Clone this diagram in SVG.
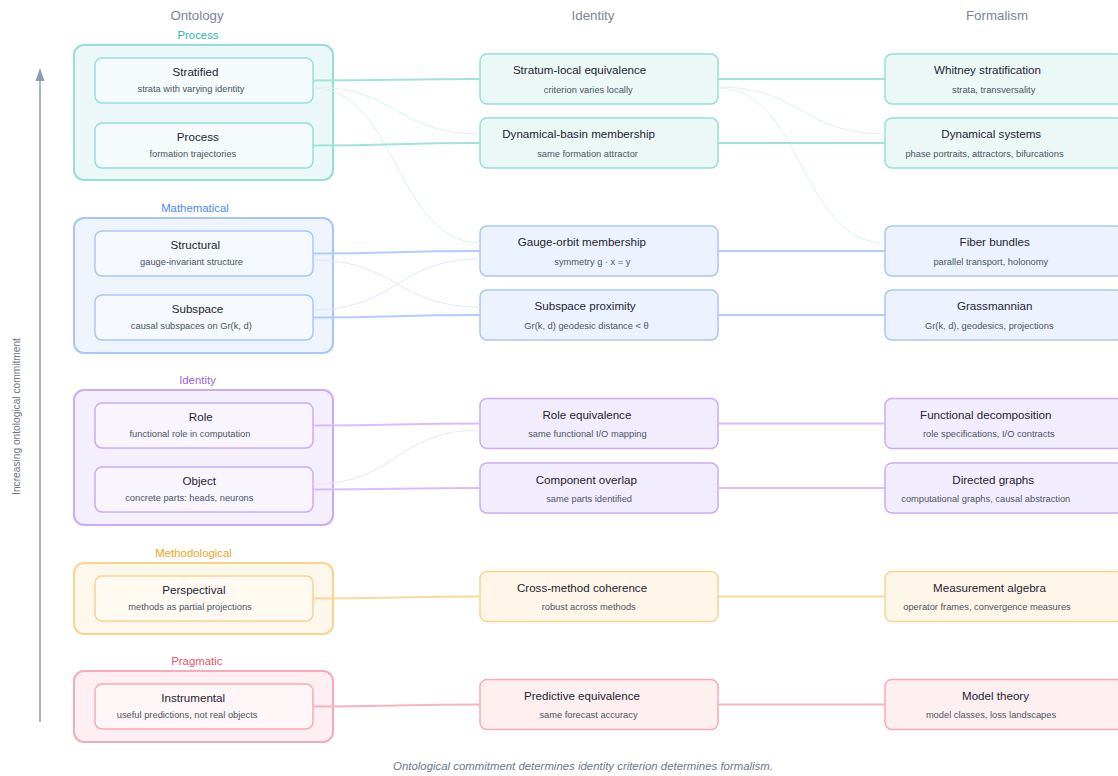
<svg xmlns="http://www.w3.org/2000/svg" width="1118" height="776" viewBox="0 0 1118 776">
<defs>
<style>
text{font-family:"Liberation Sans",Arial,sans-serif;text-anchor:middle;dominant-baseline:central}
.hdr{font-size:13.3px;fill:#7b8598}
.gl{font-size:11.4px}
.ti{font-size:11.6px;fill:#1e2433}
.su{font-size:9.3px;fill:#4b5565}
.cap{font-size:11.4px;font-style:italic;fill:#6a7890}
.ax{font-size:10.2px;fill:#6b7385}
.g{stroke-width:2}
.in,.nd{stroke-width:1.5}
.teal .g{fill:#ecf8f7;stroke:#95dfd7}
.teal .in{fill:#f4fbfa;stroke:#95dfd7}
.teal .nd{fill:#ebf8f6;stroke:#95dfd7}
.teal .gl{fill:#1fbba7}
.blue .g{fill:#eff5fe;stroke:#a7c7fb}
.blue .in{fill:#f5f8fe;stroke:#a7c7fb}
.blue .nd{fill:#edf3fe;stroke:#a7c7fb}
.blue .gl{fill:#4a8af4}
.purple .g{fill:#f4effd;stroke:#cdaaf5}
.purple .in{fill:#f8f5fe;stroke:#cdaaf5}
.purple .nd{fill:#f2edfd;stroke:#cdaaf5}
.purple .gl{fill:#9f5ee9}
.amber .g{fill:#fef7eb;stroke:#fad391}
.amber .in{fill:#fffaf2;stroke:#fad391}
.amber .nd{fill:#fef6e8;stroke:#fad391}
.amber .gl{fill:#f2a31a}
.rose .g{fill:#fef0f2;stroke:#faa9b6}
.rose .in{fill:#fef6f7;stroke:#faa9b6}
.rose .nd{fill:#feeff1;stroke:#faa9b6}
.rose .gl{fill:#f0506b}
.c{fill:none}
.s{stroke-width:2}
.f{stroke-width:1}
.ct.s{stroke:#a1e2db}.ct.f{stroke:#daf4f0}
.cb.s{stroke:#b1cdfb}.cb.f{stroke:#dfe9fd}
.cp.s{stroke:#d6bff8}.cp.f{stroke:#ece3fc}
.ca.s{stroke:#fbd89d}
.cr.s{stroke:#fab2bf}
</style>
</defs>
<rect width="1118" height="776" fill="#ffffff"/>

<g id="headers">
<text class="hdr" x="197" y="15.5">Ontology</text>
<text class="hdr" x="593" y="15.5">Identity</text>
<text class="hdr" x="997" y="15.5">Formalism</text>
</g>

<g id="axis">
<line x1="40" y1="722" x2="40" y2="79" stroke="#8e9bb5" stroke-width="1.5"/>
<polygon points="40,68 44.5,81 35.5,81" fill="#8e9bb5"/>
<text class="ax" transform="translate(16,416.5) rotate(-90)">Increasing ontological commitment</text>
</g>

<!-- Ontology groups -->
<g id="grp-process" class="teal">
<text class="gl" x="198" y="35">Process</text>
<rect class="g" x="74" y="45" width="259" height="135" rx="10"/>
</g>
<g id="n-stratified" class="teal">
<rect class="in" x="95" y="58" width="218" height="45" rx="7"/>
<text class="ti" x="195.5" y="71">Stratified</text>
<text class="su" x="191" y="89">strata with varying identity</text>
</g>
<g id="n-process" class="teal">
<rect class="in" x="95" y="123" width="218" height="45" rx="7"/>
<text class="ti" x="197.8" y="136">Process</text>
<text class="su" x="192.8" y="154">formation trajectories</text>
</g>

<g id="grp-mathematical" class="blue">
<text class="gl" x="195" y="207.5">Mathematical</text>
<rect class="g" x="74" y="218" width="259" height="135" rx="10"/>
</g>
<g id="n-structural" class="blue">
<rect class="in" x="95" y="231" width="218" height="45" rx="7"/>
<text class="ti" x="195.3" y="244">Structural</text>
<text class="su" x="191.5" y="262">gauge-invariant structure</text>
</g>
<g id="n-subspace" class="blue">
<rect class="in" x="95" y="295" width="218" height="45" rx="7"/>
<text class="ti" x="197.5" y="308.5">Subspace</text>
<text class="su" x="191.3" y="326">causal subspaces on Gr(k, d)</text>
</g>

<g id="grp-identity" class="purple">
<text class="gl" x="197.5" y="380">Identity</text>
<rect class="g" x="74" y="390" width="259" height="135" rx="10"/>
</g>
<g id="n-role" class="purple">
<rect class="in" x="95" y="403" width="218" height="45" rx="7"/>
<text class="ti" x="200.8" y="416.5">Role</text>
<text class="su" x="190" y="434">functional role in computation</text>
</g>
<g id="n-object" class="purple">
<rect class="in" x="95" y="467" width="218" height="45" rx="7"/>
<text class="ti" x="199.3" y="480.5">Object</text>
<text class="su" x="189.3" y="498">concrete parts: heads, neurons</text>
</g>

<g id="grp-methodological" class="amber">
<text class="gl" x="193.6" y="552.5">Methodological</text>
<rect class="g" x="74" y="563" width="259" height="71" rx="10"/>
</g>
<g id="n-perspectival" class="amber">
<rect class="in" x="95" y="576" width="218" height="45" rx="7"/>
<text class="ti" x="193.9" y="589.5">Perspectival</text>
<text class="su" x="190" y="607">methods as partial projections</text>
</g>

<g id="grp-pragmatic" class="rose">
<text class="gl" x="196.8" y="661">Pragmatic</text>
<rect class="g" x="74" y="671" width="259" height="71" rx="10"/>
</g>
<g id="n-instrumental" class="rose">
<rect class="in" x="95" y="684" width="218" height="45" rx="7"/>
<text class="ti" x="193.2" y="697.5">Instrumental</text>
<text class="su" x="187.1" y="715">useful predictions, not real objects</text>
</g>

<!-- Identity column -->
<g id="n-stratum-local" class="teal">
<rect class="nd" x="480" y="54" width="238" height="50" rx="7"/>
<text class="ti" x="579.6" y="69.7">Stratum-local equivalence</text>
<text class="su" x="588.2" y="89.5">criterion varies locally</text>
</g>
<g id="n-dyn-basin" class="teal">
<rect class="nd" x="480" y="118" width="238" height="50" rx="7"/>
<text class="ti" x="578.6" y="133.7">Dynamical-basin membership</text>
<text class="su" x="587.6" y="153.5">same formation attractor</text>
</g>
<g id="n-gauge-orbit" class="blue">
<rect class="nd" x="480" y="226" width="238" height="50" rx="7"/>
<text class="ti" x="581.8" y="241.7">Gauge-orbit membership</text>
<text class="su" x="592.4" y="261.5">symmetry g · x = y</text>
</g>
<g id="n-subspace-prox" class="blue">
<rect class="nd" x="480" y="290" width="238" height="50" rx="7"/>
<text class="ti" x="585.1" y="305.7">Subspace proximity</text>
<text class="su" x="586.5" y="325.5">Gr(k, d) geodesic distance &lt; θ</text>
</g>
<g id="n-role-eq" class="purple">
<rect class="nd" x="480" y="398.5" width="238" height="50" rx="7"/>
<text class="ti" x="586.9" y="414.7">Role equivalence</text>
<text class="su" x="587.4" y="434">same functional I/O mapping</text>
</g>
<g id="n-component" class="purple">
<rect class="nd" x="480" y="463" width="238" height="50" rx="7"/>
<text class="ti" x="586.3" y="479">Component overlap</text>
<text class="su" x="589.1" y="498.5">same parts identified</text>
</g>
<g id="n-cross-method" class="amber">
<rect class="nd" x="480" y="571.5" width="238" height="50" rx="7"/>
<text class="ti" x="582" y="587.5">Cross-method coherence</text>
<text class="su" x="588.7" y="607">robust across methods</text>
</g>
<g id="n-predictive" class="rose">
<rect class="nd" x="480" y="679.5" width="238" height="50" rx="7"/>
<text class="ti" x="582" y="695.5">Predictive equivalence</text>
<text class="su" x="588.5" y="715">same forecast accuracy</text>
</g>

<!-- Formalism column -->
<g id="n-whitney" class="teal">
<rect class="nd" x="885" y="54" width="238" height="50" rx="7"/>
<text class="ti" x="987.5" y="69.7">Whitney stratification</text>
<text class="su" x="993.7" y="89.5">strata, transversality</text>
</g>
<g id="n-dyn-systems" class="teal">
<rect class="nd" x="885" y="118" width="238" height="50" rx="7"/>
<text class="ti" x="991.2" y="133.7">Dynamical systems</text>
<text class="su" x="984.5" y="153.5">phase portraits, attractors, bifurcations</text>
</g>
<g id="n-fiber" class="blue">
<rect class="nd" x="885" y="226" width="238" height="50" rx="7"/>
<text class="ti" x="994.7" y="241.7">Fiber bundles</text>
<text class="su" x="990.8" y="261.5">parallel transport, holonomy</text>
</g>
<g id="n-grassmannian" class="blue">
<rect class="nd" x="885" y="290" width="238" height="50" rx="7"/>
<text class="ti" x="994.7" y="305.7">Grassmannian</text>
<text class="su" x="989.3" y="325.5">Gr(k, d), geodesics, projections</text>
</g>
<g id="n-functional" class="purple">
<rect class="nd" x="885" y="398.5" width="238" height="50" rx="7"/>
<text class="ti" x="985.8" y="414.7">Functional decomposition</text>
<text class="su" x="988.8" y="434">role specifications, I/O contracts</text>
</g>
<g id="n-directed" class="purple">
<rect class="nd" x="885" y="463" width="238" height="50" rx="7"/>
<text class="ti" x="993.2" y="479">Directed graphs</text>
<text class="su" x="985.8" y="498.5">computational graphs, causal abstraction</text>
</g>
<g id="n-measurement" class="amber">
<rect class="nd" x="885" y="571.5" width="238" height="50" rx="7"/>
<text class="ti" x="989.5" y="587.5">Measurement algebra</text>
<text class="su" x="987" y="607">operator frames, convergence measures</text>
</g>
<g id="n-model-theory" class="rose">
<rect class="nd" x="885" y="679.5" width="238" height="50" rx="7"/>
<text class="ti" x="995.5" y="695.5">Model theory</text>
<text class="su" x="991" y="715">model classes, loss landscapes</text>
</g>

<g id="connectors">
<path class="c ct f" d="M313,87 C396.5,87 396.5,134 480,134"/>
<path class="c ct f" d="M313,88 C396.5,88 396.5,243 480,243"/>
<path class="c ct f" d="M718,87 C801.5,87 801.5,134 885,134"/>
<path class="c ct f" d="M718,88 C801.5,88 801.5,243 885,243"/>
<path class="c cb f" d="M313,260 C396.5,260 396.5,307 480,307"/>
<path class="c cb f" d="M313,310 C396.5,310 396.5,259 480,259"/>
<path class="c cp f" d="M313,484 C396.5,484 396.5,430 480,430"/>

<path class="c ct s" d="M313,80.5 C396.5,80.5 396.5,79 480,79"/>
<path class="c ct s" d="M313,145.5 C396.5,145.5 396.5,143 480,143"/>
<path class="c ct s" d="M718,79 L885,79"/>
<path class="c ct s" d="M718,143 L885,143"/>
<path class="c cb s" d="M313,253.5 C396.5,253.5 396.5,251 480,251"/>
<path class="c cb s" d="M313,317.5 C396.5,317.5 396.5,315 480,315"/>
<path class="c cb s" d="M718,251 L885,251"/>
<path class="c cb s" d="M718,315 L885,315"/>
<path class="c cp s" d="M313,425.5 C396.5,425.5 396.5,423.5 480,423.5"/>
<path class="c cp s" d="M313,489.5 C396.5,489.5 396.5,488 480,488"/>
<path class="c cp s" d="M718,423.5 L885,423.5"/>
<path class="c cp s" d="M718,488 L885,488"/>
<path class="c ca s" d="M313,598.5 C396.5,598.5 396.5,596.5 480,596.5"/>
<path class="c ca s" d="M718,596.5 L885,596.5"/>
<path class="c cr s" d="M313,706.5 C396.5,706.5 396.5,704.5 480,704.5"/>
<path class="c cr s" d="M718,704.5 L885,704.5"/>
</g>

<text class="cap" x="583" y="765.5">Ontological commitment determines identity criterion determines formalism.</text>
</svg>
